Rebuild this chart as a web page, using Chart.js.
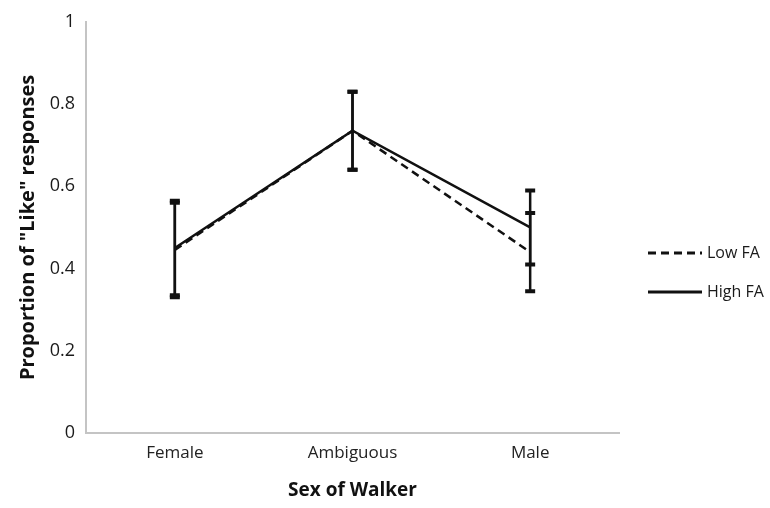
<!DOCTYPE html>
<html>
<head>
<meta charset="utf-8">
<script src="https://cdn.jsdelivr.net/npm/chart.js@4"></script>
<style>
  html, body { margin: 0; padding: 0; background: #fff; }
  #wrap { width: 770px; height: 508px; }
</style>
</head>
<body>
<div id="wrap"><canvas id="chart" width="770" height="508"></canvas></div>
<script>
// data
const categories = ['Female', 'Ambiguous', 'Male'];
const lowFA = [0.445, 0.735, 0.44];
const highFA = [0.45, 0.735, 0.50];
const lowFAErr = [0.115, 0.095, 0.095];
const highFAErr = [0.115, 0.095, 0.09];
const yTicks = [0, 0.2, 0.4, 0.6, 0.8, 1];

const FONT = '"Open Sans", Lato, sans-serif';

// error bars, drawn through the chart's own scales
const errorBars = {
  id: 'errorBars',
  afterDatasetsDraw(chart) {
    const { ctx, scales: { x, y } } = chart;
    ctx.save();
    ctx.strokeStyle = '#111';
    chart.data.datasets.forEach(ds => {
      ds.data.forEach((v, i) => {
        const e = ds.errors[i];
        const px = x.getPixelForValue(i);
        const top = y.getPixelForValue(v + e);
        const bot = y.getPixelForValue(v - e);
        ctx.lineWidth = 2.5;
        ctx.beginPath();
        ctx.moveTo(px, top);
        ctx.lineTo(px, bot);
        ctx.stroke();
        ctx.lineWidth = 4;
        ctx.beginPath();
        ctx.moveTo(px - 5, top);
        ctx.lineTo(px + 5, top);
        ctx.moveTo(px - 5, bot);
        ctx.lineTo(px + 5, bot);
        ctx.stroke();
      });
    });
    ctx.restore();
  }
};

// legend at the right, like the original
const sideLegend = {
  id: 'sideLegend',
  afterDraw(chart) {
    const { ctx } = chart;
    ctx.save();
    ctx.font = '16px ' + FONT;
    ctx.fillStyle = '#1a1a1a';
    ctx.textBaseline = 'middle';
    chart.data.datasets.forEach((ds, i) => {
      const yy = 253 + i * 39;
      ctx.strokeStyle = '#111';
      ctx.lineWidth = 3;
      ctx.setLineDash(ds.borderDash || []);
      ctx.beginPath();
      ctx.moveTo(648, yy);
      ctx.lineTo(702, yy);
      ctx.stroke();
      ctx.setLineDash([]);
      ctx.fillText(ds.label, 707, yy);
    });
    ctx.restore();
  }
};

new Chart(document.getElementById('chart'), {
  type: 'line',
  data: {
    labels: categories,
    datasets: [
      {
        label: 'Low FA',
        data: lowFA,
        errors: lowFAErr,
        borderColor: '#111',
        borderWidth: 2.5,
        borderDash: [8, 5],
        pointRadius: 0,
        tension: 0
      },
      {
        label: 'High FA',
        data: highFA,
        errors: highFAErr,
        borderColor: '#111',
        borderWidth: 2.5,
        pointRadius: 0,
        tension: 0
      }
    ]
  },
  options: {
    responsive: false,
    animation: false,
    layout: { padding: { top: 12, right: 151, bottom: 2, left: 12 } },
    plugins: {
      legend: { display: false },
      tooltip: { enabled: false }
    },
    scales: {
      x: {
        offset: true,
        grid: { display: false, drawTicks: false },
        border: { color: '#c4c4c4', width: 2 },
        ticks: { color: '#222', font: { family: FONT, size: 17 }, padding: 10 },
        title: {
          display: true,
          text: 'Sex of Walker',
          color: '#111',
          font: { family: FONT, size: 19, weight: 'bold' },
          padding: { top: 12 }
        },
        afterFit(scale) { scale.height = 73; }
      },
      y: {
        min: 0,
        max: 1,
        afterBuildTicks(scale) { scale.ticks = yTicks.map(v => ({ value: v })); },
        grid: { display: false, drawTicks: false },
        border: { color: '#c4c4c4', width: 2 },
        ticks: {
          color: '#1a1a1a',
          font: { family: FONT, size: 18 },
          padding: 11,
          callback: v => String(v)
        },
        title: {
          display: true,
          text: 'Proportion of "Like" responses',
          color: '#111',
          font: { family: FONT, size: 20, weight: 'bold' },
          padding: { bottom: 4 }
        },
        afterFit(scale) { scale.width = 74; }
      }
    }
  },
  plugins: [errorBars, sideLegend]
});
</script>
</body>
</html>
